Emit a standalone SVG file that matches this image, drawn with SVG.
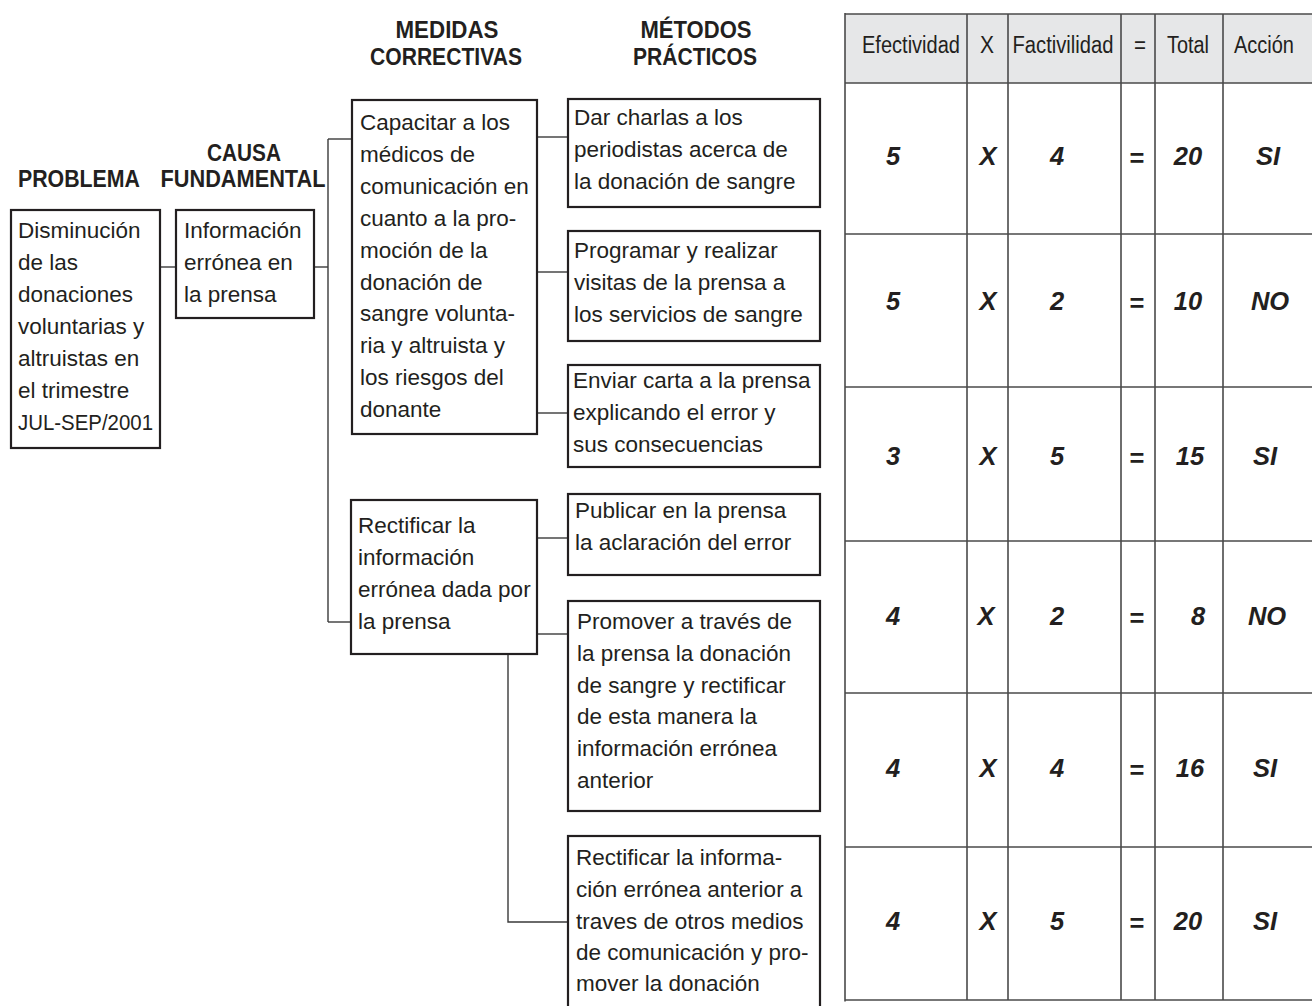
<svg xmlns="http://www.w3.org/2000/svg" width="1312" height="1006" viewBox="0 0 1312 1006">
<style>
  .box { fill: #ffffff; stroke: #231f20; stroke-width: 2.2; }
  .t { font-family: "Liberation Sans", Arial, sans-serif; font-size: 22.5px; fill: #231f20; }
  .h { font-family: "Liberation Sans", Arial, sans-serif; font-size: 23.5px; font-weight: bold; fill: #231f20; text-anchor: middle; }
  .conn { stroke: #3a3a3a; stroke-width: 1.4; fill: none; }
  .grid { stroke: #4a4a4a; stroke-width: 1.6; fill: none; }
  .th { font-family: "Liberation Sans", Arial, sans-serif; font-size: 23px; fill: #231f20; text-anchor: middle; }
  .td { font-family: "Liberation Sans", Arial, sans-serif; font-size: 25.5px; font-weight: bold; font-style: italic; fill: #231f20; text-anchor: middle; }
  .eq { font-family: "Liberation Sans", Arial, sans-serif; font-size: 25.5px; font-weight: bold; fill: #231f20; text-anchor: middle; }
</style>

<g id="headers">
  <text class="h" x="79" y="187" textLength="122" lengthAdjust="spacingAndGlyphs">PROBLEMA</text>
  <text class="h" x="244" y="161" textLength="74" lengthAdjust="spacingAndGlyphs">CAUSA</text>
  <text class="h" x="243" y="187" textLength="165" lengthAdjust="spacingAndGlyphs">FUNDAMENTAL</text>
  <text class="h" x="447" y="38" textLength="103" lengthAdjust="spacingAndGlyphs">MEDIDAS</text>
  <text class="h" x="446" y="65" textLength="152" lengthAdjust="spacingAndGlyphs">CORRECTIVAS</text>
  <text class="h" x="696" y="38" textLength="111" lengthAdjust="spacingAndGlyphs">MÉTODOS</text>
  <text class="h" x="695" y="65" textLength="124" lengthAdjust="spacingAndGlyphs">PRÁCTICOS</text>
</g>

<g id="connectors">
  <line class="conn" x1="160" y1="267" x2="176" y2="267"/>
  <line class="conn" x1="314" y1="267" x2="328" y2="267"/>
  <line class="conn" x1="328" y1="139" x2="328" y2="622"/>
  <line class="conn" x1="328" y1="139" x2="352" y2="139"/>
  <line class="conn" x1="328" y1="622" x2="351" y2="622"/>
  <line class="conn" x1="537" y1="137" x2="568" y2="137"/>
  <line class="conn" x1="537" y1="272" x2="568" y2="272"/>
  <line class="conn" x1="537" y1="413" x2="568" y2="413"/>
  <line class="conn" x1="537" y1="538" x2="568" y2="538"/>
  <line class="conn" x1="537" y1="634" x2="568" y2="634"/>
  <polyline class="conn" points="508,654 508,922 568,922"/>
</g>

<g id="problema">
  <rect class="box" x="11" y="210" width="149" height="238"/>
  <text class="t" x="18" y="238">Disminución</text>
  <text class="t" x="18" y="270">de las</text>
  <text class="t" x="18" y="302">donaciones</text>
  <text class="t" x="18" y="334">voluntarias y</text>
  <text class="t" x="18" y="366">altruistas en</text>
  <text class="t" x="18" y="398">el trimestre</text>
  <text class="t" x="18" y="430" textLength="135" lengthAdjust="spacingAndGlyphs">JUL-SEP/2001</text>
</g>

<g id="causa">
  <rect class="box" x="176" y="210" width="138" height="108"/>
  <text class="t" x="184" y="238">Información</text>
  <text class="t" x="184" y="270">errónea en</text>
  <text class="t" x="184" y="302">la prensa</text>
</g>

<g id="medida1">
  <rect class="box" x="352" y="100" width="185" height="334"/>
  <text class="t" x="360" y="130">Capacitar a los</text>
  <text class="t" x="360" y="162">médicos de</text>
  <text class="t" x="360" y="194">comunicación en</text>
  <text class="t" x="360" y="226">cuanto a la pro-</text>
  <text class="t" x="360" y="258">moción de la</text>
  <text class="t" x="360" y="290">donación de</text>
  <text class="t" x="360" y="321">sangre volunta-</text>
  <text class="t" x="360" y="353">ria y altruista y</text>
  <text class="t" x="360" y="385">los riesgos del</text>
  <text class="t" x="360" y="417">donante</text>
</g>

<g id="medida2">
  <rect class="box" x="351" y="500" width="186" height="154"/>
  <text class="t" x="358" y="533">Rectificar la</text>
  <text class="t" x="358" y="565">información</text>
  <text class="t" x="358" y="597">errónea dada por</text>
  <text class="t" x="358" y="629">la prensa</text>
</g>

<g id="metodo1">
  <rect class="box" x="568" y="99" width="252" height="108"/>
  <text class="t" x="574" y="125">Dar charlas a los</text>
  <text class="t" x="574" y="157">periodistas acerca de</text>
  <text class="t" x="574" y="189">la donación de sangre</text>
</g>

<g id="metodo2">
  <rect class="box" x="568" y="231" width="252" height="110"/>
  <text class="t" x="574" y="258">Programar y realizar</text>
  <text class="t" x="574" y="290">visitas de la prensa a</text>
  <text class="t" x="574" y="322">los servicios de sangre</text>
</g>

<g id="metodo3">
  <rect class="box" x="568" y="365" width="252" height="102"/>
  <text class="t" x="573" y="388">Enviar carta a la prensa</text>
  <text class="t" x="573" y="420">explicando el error y</text>
  <text class="t" x="573" y="452">sus consecuencias</text>
</g>

<g id="metodo4">
  <rect class="box" x="568" y="494" width="252" height="81"/>
  <text class="t" x="575" y="518">Publicar en la prensa</text>
  <text class="t" x="575" y="550">la aclaración del error</text>
</g>

<g id="metodo5">
  <rect class="box" x="568" y="601" width="252" height="210"/>
  <text class="t" x="577" y="629">Promover a través de</text>
  <text class="t" x="577" y="661">la prensa la donación</text>
  <text class="t" x="577" y="693">de sangre y rectificar</text>
  <text class="t" x="577" y="724">de esta manera la</text>
  <text class="t" x="577" y="756">información errónea</text>
  <text class="t" x="577" y="788">anterior</text>
</g>

<g id="metodo6">
  <rect class="box" x="568" y="836" width="252" height="200"/>
  <text class="t" x="576" y="865">Rectificar la informa-</text>
  <text class="t" x="576" y="897">ción errónea anterior a</text>
  <text class="t" x="576" y="929">traves de otros medios</text>
  <text class="t" x="576" y="960">de comunicación y pro-</text>
  <text class="t" x="576" y="991">mover la donación</text>
</g>

<g id="tabla">
  <rect x="845" y="14" width="480" height="69" fill="#e6e7e8"/>
  <line class="grid" x1="845" y1="14" x2="1312" y2="14" stroke-width="2.4"/>
  <line class="grid" x1="845" y1="1000" x2="1312" y2="1000" stroke-width="3" stroke="#333"/>
  <line class="grid" x1="845" y1="13" x2="845" y2="1001.5" stroke-width="3" stroke="#333"/>
  <line class="grid" x1="845" y1="83" x2="1312" y2="83"/>
  <line class="grid" x1="845" y1="234" x2="1312" y2="234"/>
  <line class="grid" x1="845" y1="387" x2="1312" y2="387"/>
  <line class="grid" x1="845" y1="541" x2="1312" y2="541"/>
  <line class="grid" x1="845" y1="693" x2="1312" y2="693"/>
  <line class="grid" x1="845" y1="847" x2="1312" y2="847"/>
  <line class="grid" x1="967" y1="14" x2="967" y2="1000"/>
  <line class="grid" x1="1008" y1="14" x2="1008" y2="1000"/>
  <line class="grid" x1="1121" y1="14" x2="1121" y2="1000"/>
  <line class="grid" x1="1155" y1="14" x2="1155" y2="1000"/>
  <line class="grid" x1="1223" y1="14" x2="1223" y2="1000"/>

  <text class="th" x="911" y="53" textLength="98" lengthAdjust="spacingAndGlyphs">Efectividad</text>
  <text class="th" x="987" y="53" textLength="14" lengthAdjust="spacingAndGlyphs">X</text>
  <text class="th" x="1063" y="53" textLength="101" lengthAdjust="spacingAndGlyphs">Factivilidad</text>
  <text class="th" x="1140" y="53" textLength="12" lengthAdjust="spacingAndGlyphs">=</text>
  <text class="th" x="1188" y="53" textLength="42" lengthAdjust="spacingAndGlyphs">Total</text>
  <text class="th" x="1264" y="53" textLength="60" lengthAdjust="spacingAndGlyphs">Acción</text>

  <g id="fila1">
    <text class="td" x="893" y="165">5</text>
    <text class="td" x="988" y="165">X</text>
    <text class="td" x="1057" y="165">4</text>
    <text class="eq" x="1137" y="167">=</text>
    <text class="td" x="1188" y="165">20</text>
    <text class="td" x="1268" y="165">SI</text>
  </g>
  <g id="fila2">
    <text class="td" x="893" y="310">5</text>
    <text class="td" x="988" y="310">X</text>
    <text class="td" x="1057" y="310">2</text>
    <text class="eq" x="1137" y="312">=</text>
    <text class="td" x="1188" y="310">10</text>
    <text class="td" x="1270" y="310">NO</text>
  </g>
  <g id="fila3">
    <text class="td" x="893" y="465">3</text>
    <text class="td" x="988" y="465">X</text>
    <text class="td" x="1057" y="465">5</text>
    <text class="eq" x="1137" y="467">=</text>
    <text class="td" x="1190" y="465">15</text>
    <text class="td" x="1265" y="465">SI</text>
  </g>
  <g id="fila4">
    <text class="td" x="893" y="625">4</text>
    <text class="td" x="986" y="625">X</text>
    <text class="td" x="1057" y="625">2</text>
    <text class="eq" x="1137" y="627">=</text>
    <text class="td" x="1198" y="625">8</text>
    <text class="td" x="1267" y="625">NO</text>
  </g>
  <g id="fila5">
    <text class="td" x="893" y="777">4</text>
    <text class="td" x="988" y="777">X</text>
    <text class="td" x="1057" y="777">4</text>
    <text class="eq" x="1137" y="779">=</text>
    <text class="td" x="1190" y="777">16</text>
    <text class="td" x="1265" y="777">SI</text>
  </g>
  <g id="fila6">
    <text class="td" x="893" y="930">4</text>
    <text class="td" x="988" y="930">X</text>
    <text class="td" x="1057" y="930">5</text>
    <text class="eq" x="1137" y="932">=</text>
    <text class="td" x="1188" y="930">20</text>
    <text class="td" x="1265" y="930">SI</text>
  </g>
</g>
</svg>
